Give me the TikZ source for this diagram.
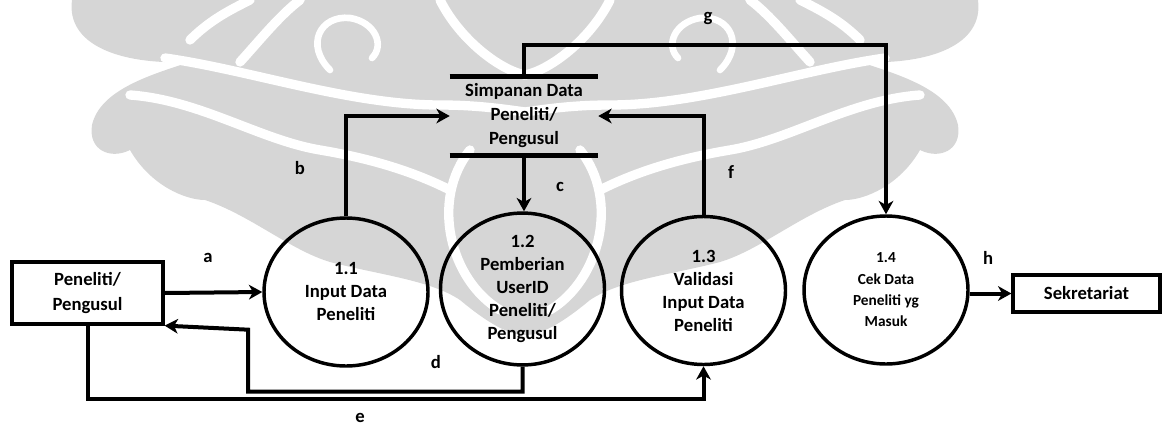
\documentclass[tikz,border=0pt]{standalone}
\usepackage{fontspec}
\setmainfont{Carlito}
\usetikzlibrary{arrows.meta,shapes.geometric,calc}

% one half of the grey emblem in the background; the other half is its mirror image
\newcommand\emblemhalf{%
  \fill[emb] (72,0) .. controls (66,45) and (120,65) .. (190,62)
    .. controls (150,75) and (100,90) .. (92,125)
    .. controls (88,150) and (110,160) .. (130,150)
    .. controls (150,185) and (185,200) .. (205,200)
    .. controls (250,215) and (290,250) .. (330,262)
    .. controls (380,275) and (430,280) .. (460,300)
    .. controls (490,325) and (510,335) .. (525,335)
    -- (525,0) -- cycle;
  \draw[embcut] (165,58) .. controls (250,70) and (350,105) .. (440,105)
    .. controls (480,105) and (510,110) .. (525,112);
  \draw[embcut] (130,95) .. controls (200,100) and (260,140) .. (320,150)
    .. controls (380,160) and (420,175) .. (450,190);
  \draw[embcut] (190,40) .. controls (210,20) and (230,10) .. (250,0);
  \draw[embcut] (240,62) .. controls (260,40) and (280,15) .. (300,0);
  \draw[embcut,line width=5pt] (330,70) .. controls (305,45) and (320,15) .. (350,18)
    .. controls (375,22) and (385,45) .. (372,58);
  \draw[embcut] (470,150) .. controls (430,200) and (450,280) .. (500,310);
  \draw[embcut] (440,0) .. controls (460,40) and (500,70) .. (525,75);
}

\begin{document}
\begin{tikzpicture}[x=0.75pt,y=-0.75pt,
  emb/.style={fill=black!16,draw=none},
  embcut/.style={draw=white,line width=7pt,line cap=round},
  proc/.style={ellipse,draw,line width=2.6pt,minimum width=123pt,
    minimum height=111pt,inner sep=0pt,align=center,
    font=\fontsize{14}{17.25}\selectfont\bfseries},
  ent/.style={rectangle,draw,line width=2.4pt,align=center,inner sep=0pt,
    font=\fontsize{14}{18.75}\selectfont\bfseries},
  store/.style={align=center,inner sep=0pt,minimum width=111pt,
    minimum height=58.5pt,font=\fontsize{14}{18}\selectfont\bfseries},
  storeline/.style={line width=3.6pt},
  flow/.style={line width=3pt,-{Stealth[length=10pt,width=11pt,inset=3pt]}},
  lbl/.style={font=\fontsize{14}{16}\selectfont\bfseries}]

\useasboundingbox (0,0) rectangle (1166,425);

% background emblem
\emblemhalf
\begin{scope}[shift={(1050,0)},xscale=-1]
  \emblemhalf
\end{scope}

% external entities
\node[ent,minimum width=113.25pt,minimum height=46.5pt] (peneliti) at (87.5,293) {Peneliti/\\Pengusul};
\node[ent,minimum width=110.25pt,minimum height=27.75pt] (sekretariat) at (1086.5,293.5) {Sekretariat};

% processes
\node[proc] (p11) at (346,292) {1.1\\Input Data\\Peneliti};
\node[proc] (p12) at (522.5,289) {1.2\\Pemberian\\UserID\\Peneliti/\\Pengusul};
\node[proc] (p13) at (703.5,290.5) {1.3\\Validasi\\Input Data\\Peneliti};
\node[proc,font=\fontsize{11.5}{16}\selectfont\bfseries] (p14) at (886,290) {1.4\\Cek Data\\Peneliti yg\\Masuk};

% data store
\node[store] (store) at (524,116) {Simpanan Data\\Peneliti/\\Pengusul};
\draw[storeline] (store.north west) -- (store.north east);
\draw[storeline] (store.south west) -- (store.south east);

% data flows
\draw[flow] (peneliti.east) -- (p11.west);
\draw[flow] (p11.north) |- (store.west);
\draw[flow] (store.south) -- (store.south |- p12.north);
\draw[flow] (p12.south) -- ++(0,25) -| ++(-274.5,-62) -- (peneliti.south east);
\draw[flow] (peneliti.south) -- ++(0,73) -| (p13.south);
\draw[flow] (p13.north) |- (store.east);
\draw[flow] (store.north) -- ++(0,-32) -| (p14.north);
\draw[flow] (sekretariat.west -| p14.east) -- (sekretariat.west);

% flow labels
\node[lbl] (la) at (208,258) {a};
\node[lbl] (lb) at (300,168) {b};
\node[lbl] (lc) at (560,187) {c};
\node[lbl] (ld) at (436,362) {d};
\node[lbl] (le) at (360,418) {e};
\node[lbl] (lf) at (731,172) {f};
\node[lbl] (lg) at (708,18) {g};
\node[lbl] (lh) at (988,258) {h};
\end{tikzpicture}
\end{document}
